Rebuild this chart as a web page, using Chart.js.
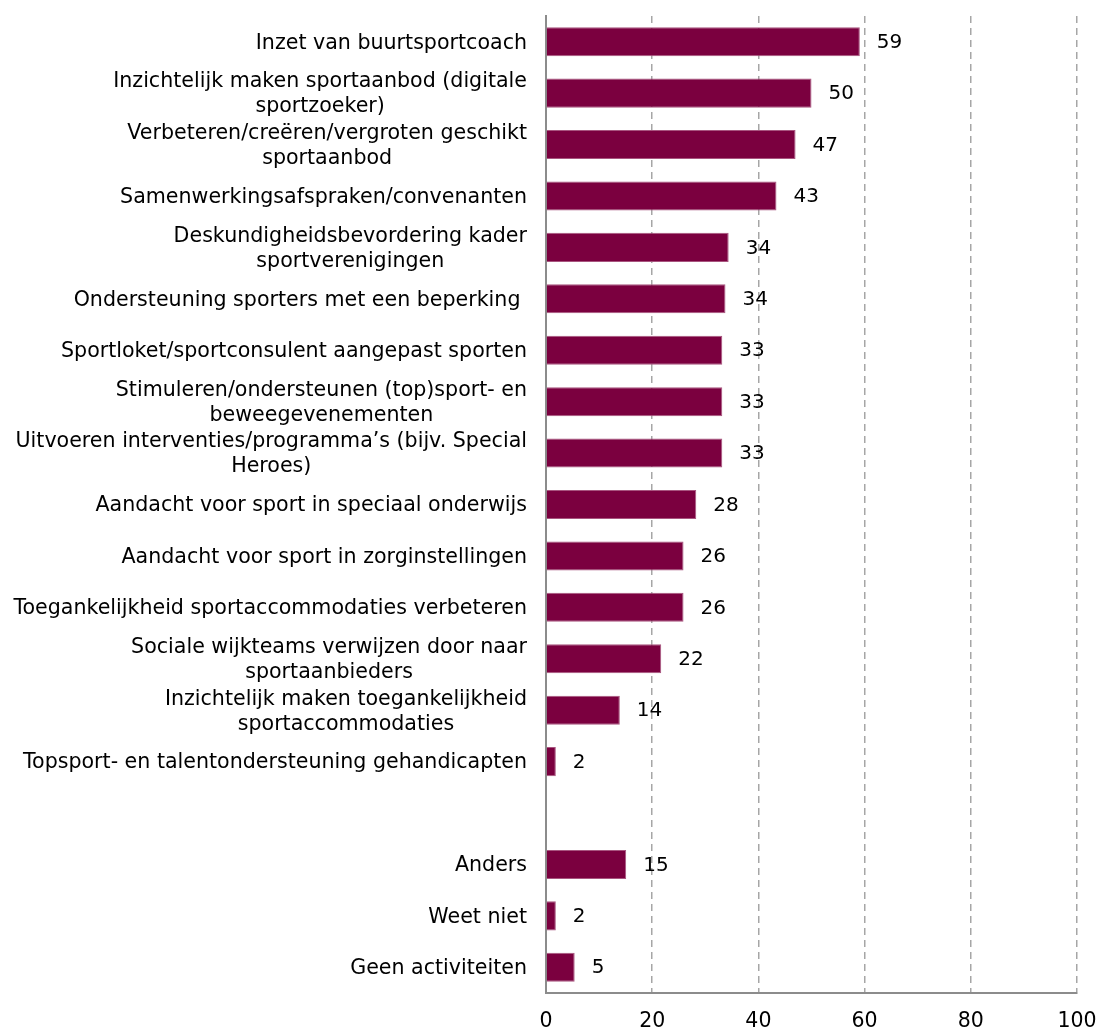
<!DOCTYPE html>
<html>
<head>
<meta charset="utf-8">
<script src="https://cdn.jsdelivr.net/npm/chart.js@4/dist/chart.umd.min.js"></script>
<style>
html,body{margin:0;padding:0;background:#fff;}
#wrap{width:1100px;height:1027px;position:relative;}
</style>
</head>
<body>
<div id="wrap"><canvas id="c"></canvas></div>
<script>
const categories = [
  "Inzet van buurtsportcoach",
  ["Inzichtelijk maken sportaanbod (digitale", "sportzoeker)"],
  ["Verbeteren/creëren/vergroten geschikt", "sportaanbod"],
  "Samenwerkingsafspraken/convenanten",
  ["Deskundigheidsbevordering kader", "sportverenigingen"],
  "Ondersteuning sporters met een beperking ",
  "Sportloket/sportconsulent aangepast sporten",
  ["Stimuleren/ondersteunen (top)sport- en", "beweegevenementen"],
  ["Uitvoeren interventies/programma’s (bijv. Special", "Heroes)"],
  "Aandacht voor sport in speciaal onderwijs",
  "Aandacht voor sport in zorginstellingen",
  "Toegankelijkheid sportaccommodaties verbeteren",
  ["Sociale wijkteams verwijzen door naar", "sportaanbieders"],
  ["Inzichtelijk maken toegankelijkheid", "sportaccommodaties"],
  "Topsport- en talentondersteuning gehandicapten",
  "",
  "Anders",
  "Weet niet",
  "Geen activiteiten"
];
const values = [59.1, 50.0, 47.0, 43.4, 34.4, 33.8, 33.2, 33.2, 33.2, 28.3, 25.9, 25.9, 21.7, 13.9, 1.85, null, 15.1, 1.85, 5.4];
const xTicks = [0, 20, 40, 60, 80, 100];

const FONT = '"DejaVu Sans", sans-serif';
const LABEL_SIZE = 20.6;
const VALUE_SIZE = 20;
const TICK_SIZE = 20.5;

const yLabelPlugin = {
  id: 'yLabels',
  afterDraw(chart) {
    const ys = chart.scales.y;
    const ctx = chart.ctx;
    ctx.save();
    ctx.font = LABEL_SIZE + 'px ' + FONT;
    ctx.fillStyle = '#000';
    ctx.textBaseline = 'middle';
    ctx.textAlign = 'center';
    const right = chart.chartArea.left - 19;
    const lh = 25;
    categories.forEach((lab, i) => {
      const lines = Array.isArray(lab) ? lab : [lab];
      if (!lines.join('')) return;
      const w = Math.max(...lines.map(l => ctx.measureText(l).width));
      const cx = right - w / 2;
      const cy = ys.getPixelForValue(i) + 1.5;
      lines.forEach((l, j) => ctx.fillText(l, cx, cy + (j - (lines.length - 1) / 2) * lh));
    });
    ctx.restore();
  }
};

const valueLabelPlugin = {
  id: 'valueLabels',
  afterDatasetsDraw(chart) {
    const ctx = chart.ctx;
    const meta = chart.getDatasetMeta(0);
    ctx.save();
    ctx.font = VALUE_SIZE + 'px ' + FONT;
    ctx.fillStyle = '#000';
    ctx.textBaseline = 'middle';
    ctx.textAlign = 'left';
    meta.data.forEach((bar, i) => {
      const v = values[i];
      if (v === null || v === undefined) return;
      ctx.fillText(String(Math.round(v)), bar.x + 17, bar.y + 1);
    });
    ctx.restore();
  }
};

new Chart(document.getElementById('c'), {
  type: 'bar',
  data: {
    labels: categories,
    datasets: [{
      data: values,
      backgroundColor: '#7B003F',
      borderColor: '#A8557F',
      borderWidth: 1,
      borderSkipped: 'left',
      categoryPercentage: 1,
      barPercentage: 0.565
    }]
  },
  options: {
    indexAxis: 'y',
    responsive: true,
    maintainAspectRatio: false,
    animation: false,
    devicePixelRatio: 1,
    layout: { padding: { top: 16, right: 23, left: 0, bottom: 0 } },
    plugins: { legend: { display: false }, tooltip: { enabled: false } },
    scales: {
      x: {
        min: 0, max: 100,
        afterBuildTicks(s) { s.ticks = xTicks.map(v => ({ value: v })); },
        afterFit(s) { s.height = 34; s.paddingLeft = 0; s.paddingRight = 0; },
        grid: {
          color: c => (c.tick && c.tick.value === 0) ? 'rgba(0,0,0,0)' : '#A6A6A6',
          lineWidth: 1.5,
          drawTicks: false
        },
        border: { display: true, color: '#8C8C8C', width: 2, dash: [7, 5] },
        ticks: { font: { family: FONT, size: TICK_SIZE }, color: '#000', padding: 16, maxRotation: 0 }
      },
      y: {
        afterFit(s) { s.width = 546; s.paddingTop = 0; s.paddingBottom = 0; },
        grid: { display: false, drawTicks: false },
        border: { display: true, color: '#8C8C8C', width: 2 },
        ticks: { display: false }
      }
    }
  },
  plugins: [yLabelPlugin, valueLabelPlugin]
});
</script>
</body>
</html>
